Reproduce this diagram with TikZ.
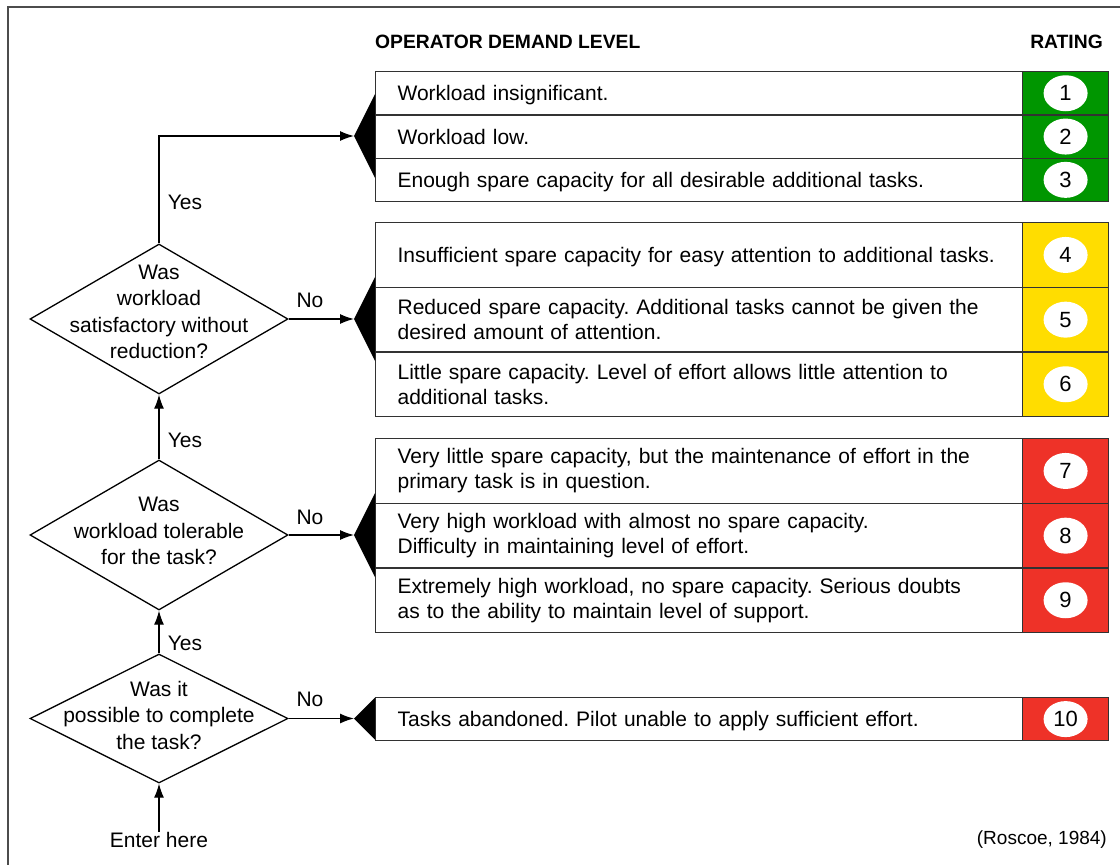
\documentclass[tikz,border=0pt]{standalone}
\usepackage{fontspec}
\setmainfont{Liberation Sans}
\usetikzlibrary{shapes.geometric,arrows.meta}
\definecolor{rgreen}{RGB}{0,150,0}
\definecolor{ryellow}{RGB}{255,221,0}
\definecolor{rred}{RGB}{238,50,40}
\definecolor{boxc}{RGB}{50,50,50}
\newcommand\myfs{\fontsize{21}{25}\selectfont\frenchspacing}
\newcommand\qfs{\fontsize{21}{26.5}\selectfont\frenchspacing}
\newcommand\hdfs{\fontsize{19.3}{24}\selectfont\bfseries}
\tikzset{
  rowbox/.style={draw=boxc, line width=1.2pt, anchor=north west, minimum width=647pt,
    minimum height=#1, text width=603pt, inner xsep=22pt, inner ysep=0pt, align=left, font=\myfs},
  oneline/.style={text depth=0pt},
  ratebox/.style={draw=boxc, line width=1.2pt, anchor=north west, minimum width=86pt,
    minimum height=#1, inner sep=0pt},
  numel/.style={ellipse, fill=white, minimum width=44pt, minimum height=36pt, inner sep=0pt, font=\fontsize{22}{26}\selectfont},
  decide/.style={diamond, draw=black, line width=1.3pt, minimum width=258pt, minimum height=#1, inner sep=0pt},
  qtext/.style={align=center, font=\qfs, inner sep=0pt},
  lbl/.style={font=\myfs, inner sep=0pt},
  conn/.style={draw=black, line width=1.3pt, -{Latex[length=14pt,width=10pt]}},
  kite/.style={fill=black},
}
\begin{document}
\begin{tikzpicture}[x=1pt,y=-1pt]
\useasboundingbox (0,0) rectangle (1120,865);
\fill[white] (0,0) rectangle (1120,865);
\draw[gray!60!black, line width=2pt] (8,865) -- (8,6.5) -- (1120,6.5);

% headers
\node[font=\hdfs, anchor=west, inner sep=0pt] (hdemand) at (375,42) {OPERATOR DEMAND LEVEL};
\node[font=\hdfs, anchor=east, inner sep=0pt] (hrating) at (1103,42) {RATING};

% group 1
\node[rowbox=43.3pt, oneline] (r1) at (375,71) {Workload insignificant.};
\node[rowbox=43.3pt] (r2) at (375,114.3) {Workload low.};
\node[rowbox=43.3pt, oneline] (r3) at (375,157.6) {Enough spare capacity for all desirable additional tasks.};
\node[ratebox=43.3pt, fill=rgreen] (c1) at (1022,71) {};
\node[ratebox=43.3pt, fill=rgreen] (c2) at (1022,114.3) {};
\node[ratebox=43.3pt, fill=rgreen] (c3) at (1022,157.6) {};
\node[numel] (n1) at (c1.center) {1};
\node[numel] (n2) at (c2.center) {2};
\node[numel] (n3) at (c3.center) {3};

% group 2
\node[rowbox=64.7pt, oneline] (r4) at (375,222) {Insufficient spare capacity for easy attention to additional tasks.};
\node[rowbox=64.7pt] (r5) at (375,286.7) {Reduced spare capacity. Additional tasks cannot be given the\\desired amount of attention.};
\node[rowbox=64.7pt] (r6) at (375,351.3) {Little spare capacity. Level of effort allows little attention to\\additional tasks.};
\node[ratebox=64.7pt, fill=ryellow] (c4) at (1022,222) {};
\node[ratebox=64.7pt, fill=ryellow] (c5) at (1022,286.7) {};
\node[ratebox=64.7pt, fill=ryellow] (c6) at (1022,351.3) {};
\node[numel] (n4) at (c4.center) {4};
\node[numel] (n5) at (c5.center) {5};
\node[numel] (n6) at (c6.center) {6};

% group 3
\node[rowbox=64.7pt] (r7) at (375,438) {Very little spare capacity, but the maintenance of effort in the\\primary task is in question.};
\node[rowbox=64.7pt] (r8) at (375,502.7) {Very high workload with almost no spare capacity.\\Difficulty in maintaining level of effort.};
\node[rowbox=64.7pt] (r9) at (375,567.3) {Extremely high workload, no spare capacity. Serious doubts\\as to the ability to maintain level of support.};
\node[ratebox=64.7pt, fill=rred] (c7) at (1022,438) {};
\node[ratebox=64.7pt, fill=rred] (c8) at (1022,502.7) {};
\node[ratebox=64.7pt, fill=rred] (c9) at (1022,567.3) {};
\node[numel] (n7) at (c7.center) {7};
\node[numel] (n8) at (c8.center) {8};
\node[numel] (n9) at (c9.center) {9};

% group 4
\node[rowbox=43pt, oneline] (r10) at (375,697) {Tasks abandoned. Pilot unable to apply sufficient effort.};
\node[ratebox=43pt, fill=rred] (c10) at (1022,697) {};
\node[numel] (n10) at (c10.center) {10};

% kites
\coordinate (k1) at (354,136);
\coordinate (k2) at (354,319);
\coordinate (k3) at (354,535);
\coordinate (k4) at (354,718.5);
\fill[kite] (375,94) -- (k1) -- (375,178) -- cycle;
\fill[kite] (375,277) -- (k2) -- (375,361) -- cycle;
\fill[kite] (375,493) -- (k3) -- (375,577) -- cycle;
\fill[kite] (375,697.5) -- (k4) -- (375,739.5) -- cycle;

% decisions
\node[decide=150pt] (d1) at (159,319) {};
\node[qtext] (t1) at (159,312) {Was\\workload\\satisfactory without\\reduction?};
\node[decide=150pt] (d2) at (159,535) {};
\node[qtext] (t2) at (159,531) {Was\\workload tolerable\\for the task?};
\node[decide=129pt] (d3) at (159,718.5) {};
\node[qtext] (t3) at (159,715) {Was it\\possible to complete\\the task?};

% entry
\node[lbl] (enter) at (159,840) {Enter here};
\node[lbl, font=\fontsize{19}{24}\selectfont, anchor=east] (src) at (1107,840) {(Roscoe, 1984)};

% connectors
\draw[conn] (enter.north) -- (d3.south);
\draw[conn] (d3.north) -- (d2.south);
\draw[conn] (d2.north) -- (d1.south);
\draw[conn] (d1.north) |- (k1);
\draw[conn] (d1.east) -- (k2);
\draw[conn] (d2.east) -- (k3);
\draw[conn] (d3.east) -- (k4);

% labels
\node[lbl] (y1) at (185,202) {Yes};
\node[lbl] (y2) at (185,440) {Yes};
\node[lbl] (y3) at (185,643) {Yes};
\node[lbl] (no1) at (310,300) {No};
\node[lbl] (no2) at (310,517) {No};
\node[lbl] (no3) at (310,699) {No};
\end{tikzpicture}
\end{document}
